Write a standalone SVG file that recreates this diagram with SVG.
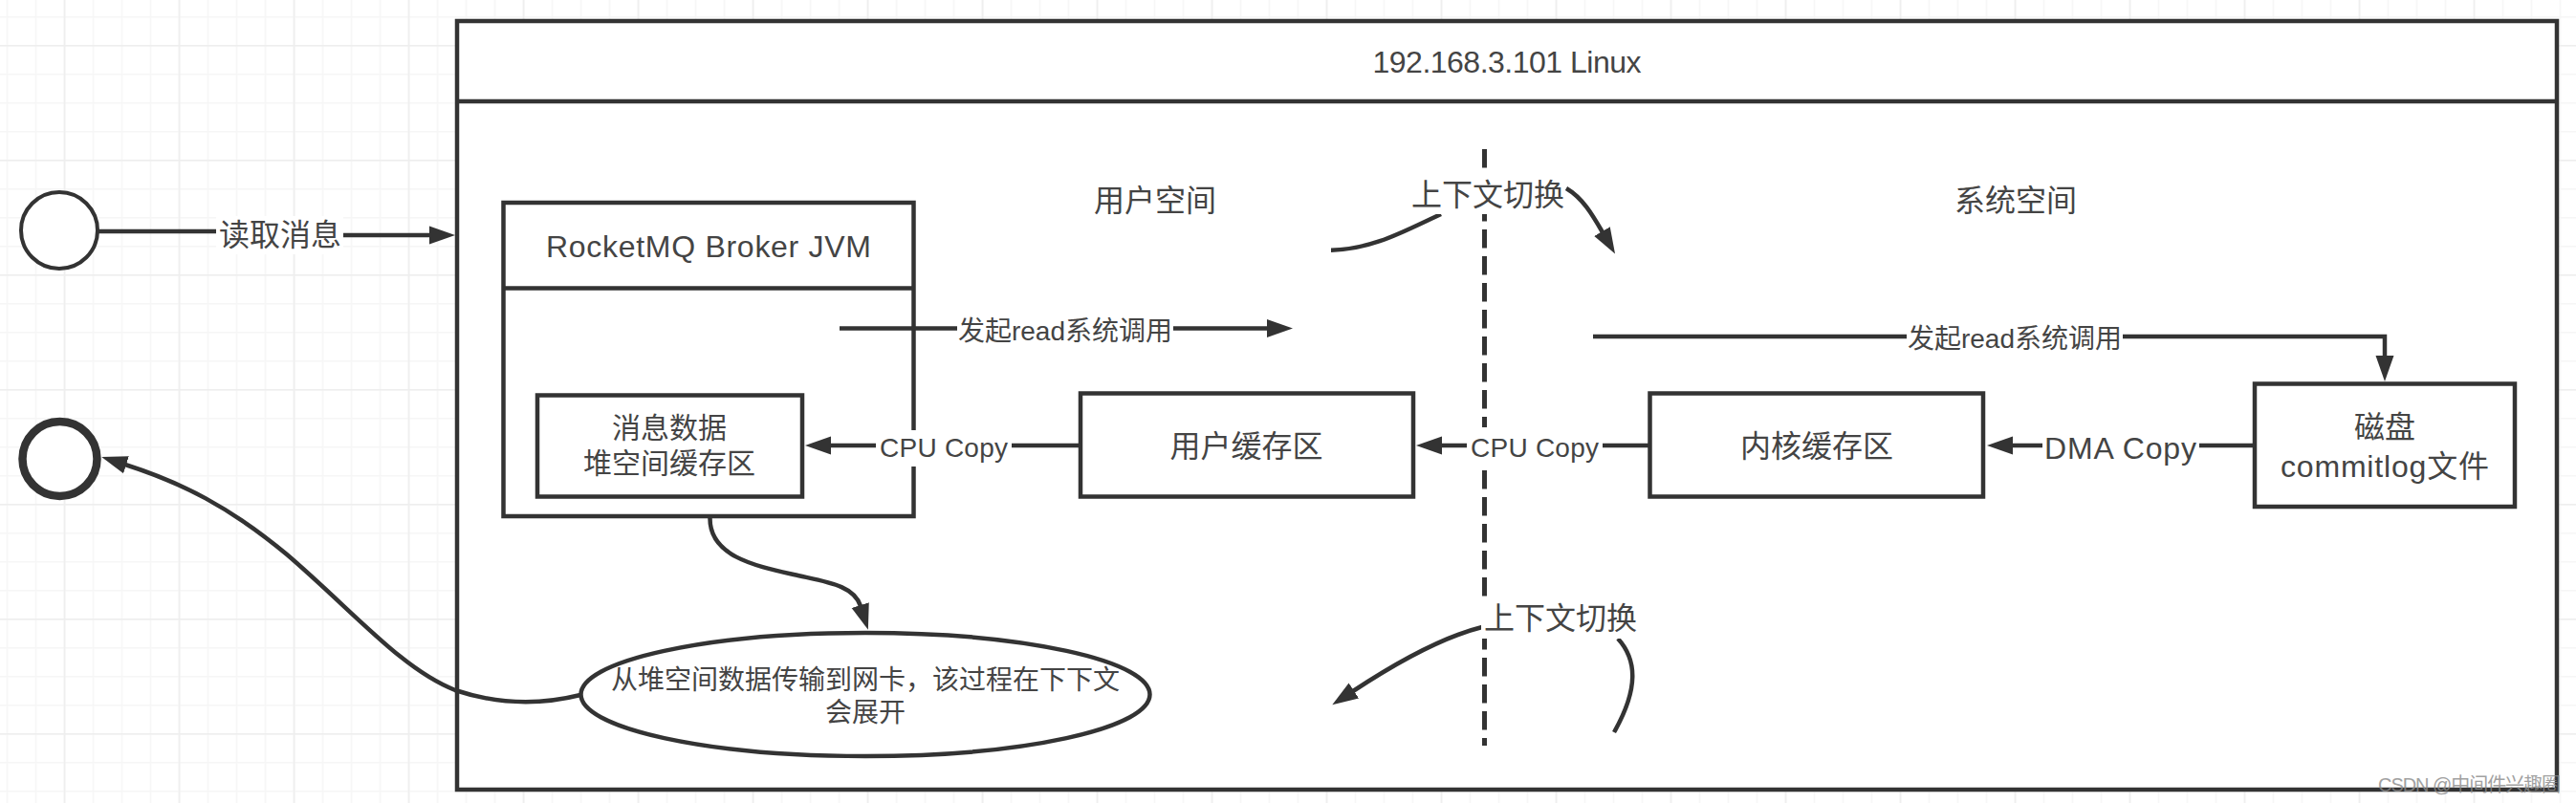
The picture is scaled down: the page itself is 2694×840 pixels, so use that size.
<svg xmlns="http://www.w3.org/2000/svg" width="2694" height="840" viewBox="0 0 2694 840">
<defs>
<style>
.s{fill:none;stroke:#333;stroke-width:4.5}
.n{fill:#fff;stroke:#333;stroke-width:4.5}
.c{fill:none;stroke:#333;stroke-width:4.5;marker-end:url(#a)}
.p{fill:none;stroke:#333;stroke-width:4.5}
.b{fill:#fff;stroke:none}
text{font-family:"Liberation Sans","Noto Sans CJK SC",sans-serif;fill:#444;text-anchor:middle;dominant-baseline:central}
.f32{font-size:32px}.f30{font-size:30px}.f28{font-size:28px}
.wm{font-size:20px;fill:#8a8a8a;opacity:.8}
</style>
<marker id="a" markerUnits="userSpaceOnUse" markerWidth="30" markerHeight="20" viewBox="0 0 30 20" refX="1" refY="10" orient="auto"><path d="M0 0.500 L27 10 L0 19.500 Z" fill="#333"/></marker>
<pattern id="minor" width="30" height="30" patternUnits="userSpaceOnUse" x="6.700" y="17"><path d="M0 0V30M0 0H30" fill="none" stroke="#f6f6f6" stroke-width="3"/></pattern>
<pattern id="major" width="120" height="120" patternUnits="userSpaceOnUse" x="66.700" y="47"><path d="M0 0V120M0 0H120" fill="none" stroke="#eeeeee" stroke-width="3"/></pattern>
</defs>
<g id="background">
<rect width="2694" height="840" fill="#fff"/>
<rect width="2694" height="840" fill="url(#minor)"/>
<rect width="2694" height="840" fill="url(#major)"/>
</g>
<g id="linux-host">
<rect class="n" x="478" y="22" width="2196" height="804"/>
<path class="s" d="M478 106H2674"/>
<text class="f32" x="1576" y="65" textLength="281">192.168.3.101 Linux</text>
</g>
<g id="user-space-label"><text class="f32" x="1208" y="210">用户空间</text></g>
<g id="system-space-label"><text class="f32" x="2108" y="210">系统空间</text></g>
<g id="client-start"><circle cx="62" cy="241" r="40" fill="#fff" stroke="#333" stroke-width="4"/></g>
<g id="client-end"><circle cx="62.500" cy="480" r="39" fill="#fff" stroke="#333" stroke-width="8.500"/></g>
<g id="broker">
<rect class="n" x="526.500" y="212" width="429" height="328"/>
<path class="s" d="M526.500 301.500H955.500"/>
<text class="f32" x="741" y="258" textLength="340">RocketMQ Broker JVM</text>
</g>
<g id="heap-buffer">
<rect class="n" x="562" y="413.500" width="277" height="106"/>
<text class="f30" x="700" y="447">消息数据</text>
<text class="f30" x="700" y="484">堆空间缓存区</text>
</g>
<g id="user-buffer">
<rect class="n" x="1130" y="411.500" width="348" height="108"/>
<text class="f32" x="1303.500" y="467">用户缓存区</text>
</g>
<g id="kernel-buffer">
<rect class="n" x="1725.500" y="411.500" width="348.500" height="108"/>
<text class="f32" x="1900" y="467">内核缓存区</text>
</g>
<g id="disk">
<rect class="n" x="2358" y="401.500" width="272" height="128.500"/>
<text class="f32" x="2494" y="447">磁盘</text>
<text class="f32" x="2494" y="488" textLength="218">commitlog文件</text>
</g>
<g id="nic-ellipse">
<ellipse class="n" cx="905" cy="726.500" rx="297.500" ry="64.500"/>
<text class="f28" x="905" y="711">从堆空间数据传输到网卡，该过程在下下文</text>
<text class="f28" x="905" y="745">会展开</text>
</g>
<g id="connectors">
<path d="M1552.500 156V780" fill="none" stroke="#333" stroke-width="5" stroke-dasharray="19.500 8.500"/>
<path class="c" d="M102 242H294V246H450"/>
<path class="c" d="M878 343.500H1326"/>
<path class="c" d="M1666 352H2494V373"/>
<path class="c" d="M1130 466H868"/>
<path class="c" d="M1725.500 466H1507"/>
<path class="c" d="M2358 466H2104"/>
<path class="p" d="M1392 261.700C1435 261 1468 242 1507 224"/>
<path class="c" d="M1638 197C1655 207 1665 224 1676 243"/>
<path class="c" d="M1550 656C1510 666 1465 690 1415 723"/>
<path class="p" d="M1692 668C1712 690 1714 720 1688 766"/>
<path class="c" d="M742.500 542C742 582 790 592 830 601C865 609 893 612 900 634"/>
<path class="c" d="M607 727C575 735 530 740 476 722C420 700 370 640 300 580C240 530 190 505 131 486"/>
<rect class="b" x="226" y="226" width="133" height="40"/>
<text class="f32" x="293" y="246">读取消息</text>
<rect class="b" x="1001" y="325" width="226" height="40"/>
<text class="f28" x="1114" y="346" textLength="224">发起read系统调用</text>
<rect class="b" x="1994" y="333" width="226" height="40"/>
<text class="f28" x="2107" y="354" textLength="224">发起read系统调用</text>
<rect class="b" x="916" y="450" width="142" height="38"/>
<text class="f28" x="987" y="468.500" textLength="134">CPU Copy</text>
<rect class="b" x="1534" y="447" width="142" height="41"/>
<text class="f28" x="1605" y="468.500" textLength="134">CPU Copy</text>
<rect class="b" x="2136" y="447" width="164" height="41"/>
<text class="f32" x="2217.500" y="468.500" textLength="159">DMA Copy</text>
<rect class="b" x="1473" y="184" width="164" height="40"/>
<text class="f32" x="1556" y="203.500">上下文切换</text>
<rect class="b" x="1549" y="630" width="164" height="38"/>
<text class="f32" x="1632" y="646.500">上下文切换</text>
</g>
<g id="watermark"><text class="wm" x="2582.500" y="821" textLength="191">CSDN @中间件兴趣圈</text></g>
</svg>
